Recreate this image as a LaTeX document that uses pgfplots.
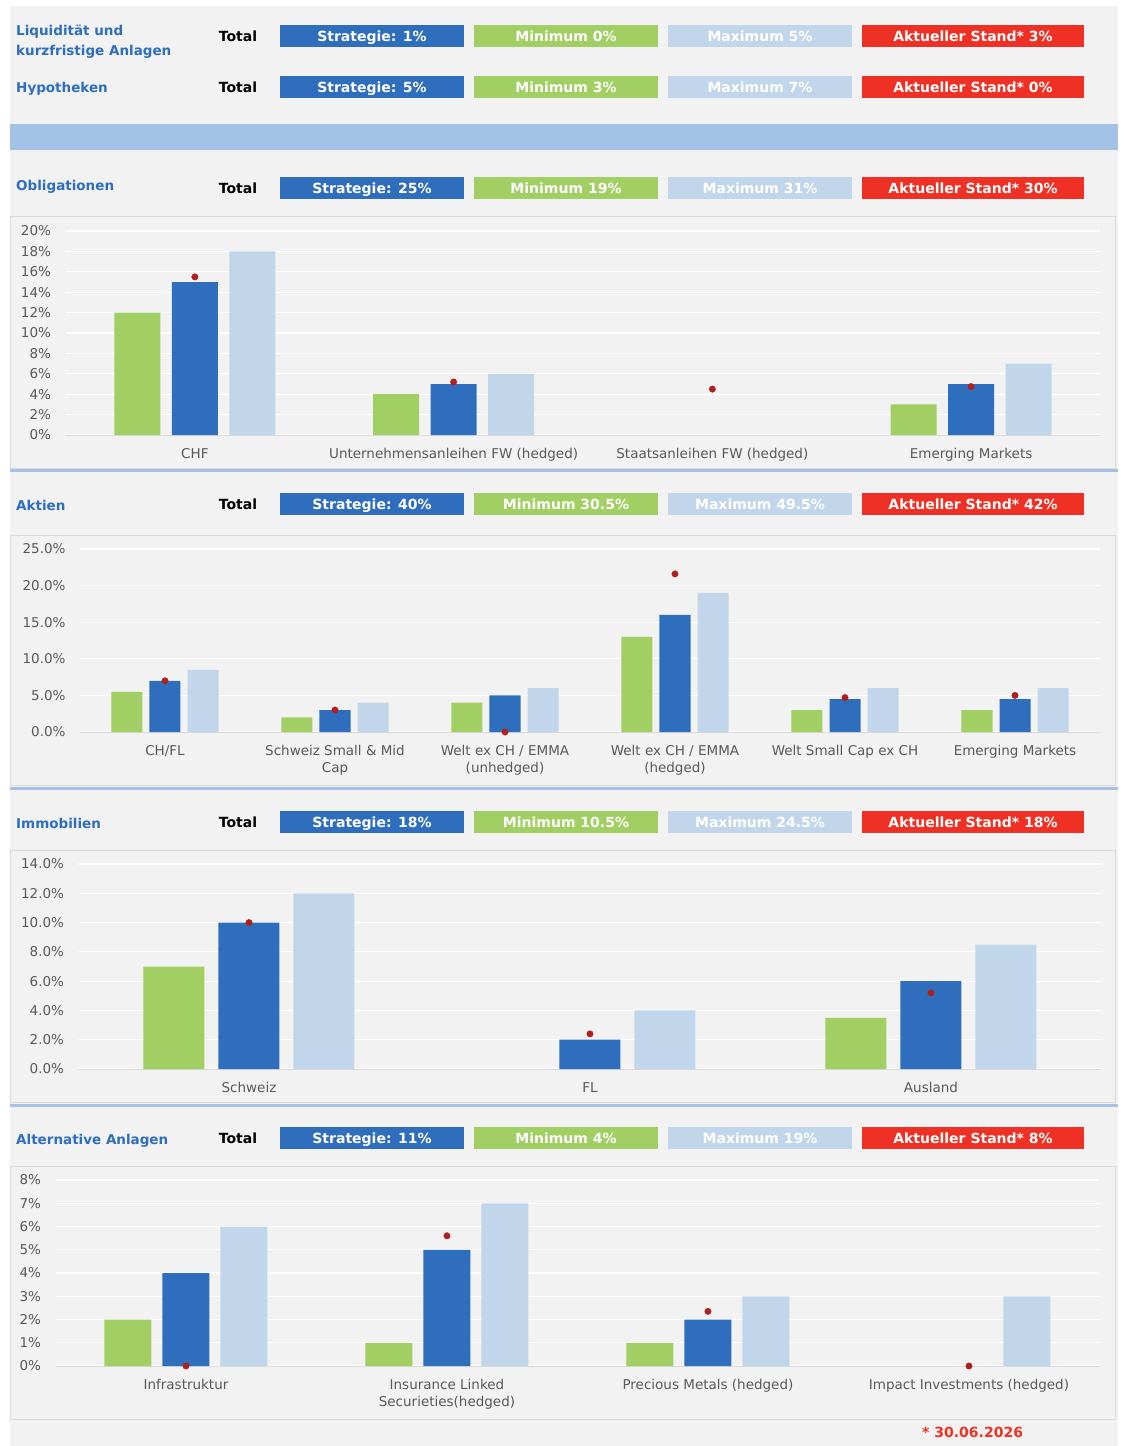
\documentclass[border=0pt]{standalone}
\usepackage{fontspec}
\setmainfont{DejaVu Sans}
\usepackage{pgfplots}
\pgfplotsset{compat=1.18}
\definecolor{cgreen}{HTML}{A1CF63}
\definecolor{cblue}{HTML}{2F6EBD}
\definecolor{clight}{HTML}{C2D6EB}
\definecolor{cred}{HTML}{EE3124}
\definecolor{cdot}{HTML}{B01E1E}
\definecolor{cpanel}{HTML}{F2F2F2}
\definecolor{cband}{HTML}{A4C2E5}
\definecolor{cframe}{HTML}{D9D9D9}
\definecolor{ctext}{HTML}{595959}
\definecolor{ctitle}{HTML}{2E6EBE}
\newcommand\hdfont{\fontsize{14}{16}\selectfont\bfseries}
\newcommand\ttfont{\fontsize{13.5}{16}\selectfont\bfseries}
% #1 box top y, #2 strategie, #3 min, #4 max, #5 aktuell
\newcommand\boxes[5]{%
  \node[anchor=base, font=\hdfont, text=black] at (238,-#1-16) {Total};
  \fill[cblue] (280,-#1) rectangle (464,-#1-22);
  \fill[cgreen] (474,-#1) rectangle (658,-#1-22);
  \fill[clight] (668,-#1) rectangle (852,-#1-22);
  \fill[cred] (862,-#1) rectangle (1084,-#1-22);
  \node[anchor=base, font=\hdfont, text=white] at (372,-#1-16) {#2};
  \node[anchor=base, font=\hdfont, text=white] at (566,-#1-16) {#3};
  \node[anchor=base, font=\hdfont, text=white] at (760,-#1-16) {#4};
  \node[anchor=base, font=\hdfont, text=white] at (973,-#1-16) {#5};
}
\newcommand\sectitle[2]{\node[anchor=base west, inner sep=0pt, font=\ttfont, text=ctitle] at (16,-#1) {#2};}
\pgfplotsset{
  mychart/.style={
    scale only axis, anchor=south west, clip=false,
    axis x line*=bottom, axis y line*=left,
    x axis line style={draw=cframe, line width=1pt, -},
    y axis line style={draw=none},
    ymajorgrids, grid style={white, line width=1.2pt},
    major tick length=0pt, tick style={draw=none},
    tick label style={text=ctext, font=\fontsize{13.5}{17}\selectfont},
    yticklabel style={xshift=-11pt},
    xticklabel style={yshift=-10pt, align=center},
    enlargelimits=false,
  },
  gbar/.style={ybar, fill=cgreen, draw=none},
  bbar/.style={ybar, fill=cblue, draw=none},
  lbar/.style={ybar, fill=clight, draw=none},
  dots/.style={only marks, mark=*, mark size=3.2pt, mark options={fill=cdot, draw=cdot}},
}
\begin{document}
\begin{tikzpicture}[x=1pt,y=1pt]
\fill[white] (0,0) rectangle (1124,-1446);
\fill[cpanel] (10,-6) rectangle (1118,-1446);
% band
\fill[cband] (10,-124) rectangle (1118,-150);
% chart frames
\draw[cframe, fill=cpanel] (10,-216) rectangle (1115,-468);
\draw[cframe, fill=cpanel] (10,-535) rectangle (1115,-785);
\draw[cframe, fill=cpanel] (10,-850) rectangle (1115,-1102);
\draw[cframe, fill=cpanel] (10,-1166) rectangle (1115,-1419);
% separators
\fill[cband] (10,-469) rectangle (1118,-472);
\fill[cband] (10,-786.5) rectangle (1118,-789.5);
\fill[cband] (10,-1104) rectangle (1118,-1107);
% headers
\sectitle{35}{Liquidität und}
\sectitle{55}{kurzfristige Anlagen}
\boxes{25}{Strategie: 1\%}{Minimum 0\%}{Maximum 5\%}{Aktueller Stand* 3\%}
\sectitle{92}{Hypotheken}
\boxes{76}{Strategie: 5\%}{Minimum 3\%}{Maximum 7\%}{Aktueller Stand* 0\%}
\sectitle{190}{Obligationen}
\boxes{177}{Strategie: 25\%}{Minimum 19\%}{Maximum 31\%}{Aktueller Stand* 30\%}
\sectitle{510}{Aktien}
\boxes{493}{Strategie: 40\%}{Minimum 30.5\%}{Maximum 49.5\%}{Aktueller Stand* 42\%}
\sectitle{828}{Immobilien}
\boxes{811}{Strategie: 18\%}{Minimum 10.5\%}{Maximum 24.5\%}{Aktueller Stand* 18\%}
\sectitle{1144}{Alternative Anlagen}
\boxes{1127}{Strategie: 11\%}{Minimum 4\%}{Maximum 19\%}{Aktueller Stand* 8\%}
\node[anchor=base west, inner sep=0pt, font=\hdfont, text=cred] at (922,-1437) {* 30.06.2026};

% Obligationen (zero-valued bars omitted: Staatsanleihen FW = 0/0/0)
\begin{axis}[mychart, at={(65.5pt,-435pt)}, width=1035pt, height=204pt,
  xmin=-0.5, xmax=3.5, ymin=0, ymax=20,
  ytick={0,2,...,20}, yticklabels={0\%,2\%,4\%,6\%,8\%,10\%,12\%,14\%,16\%,18\%,20\%},
  xtick={0,1,2,3}, xticklabels={CHF,Unternehmensanleihen FW (hedged),Staatsanleihen FW (hedged),Emerging Markets}]
\addplot[gbar, bar width=46pt, bar shift=-57.5pt] coordinates {(0,12) (1,4) (3,3)};
\addplot[bbar, bar width=46pt, bar shift=0pt] coordinates {(0,15) (1,5) (3,5)};
\addplot[lbar, bar width=46pt, bar shift=57.5pt] coordinates {(0,18) (1,6) (3,7)};
\addplot[dots] coordinates {(0,15.5) (1,5.2) (2,4.5) (3,4.75)};
\end{axis}

% Aktien
\begin{axis}[mychart, at={(80pt,-732pt)}, width=1020pt, height=183pt,
  xmin=-0.5, xmax=5.5, ymin=0, ymax=25,
  ytick={0,5,...,25}, yticklabels={0.0\%,5.0\%,10.0\%,15.0\%,20.0\%,25.0\%},
  xtick={0,1,2,3,4,5}, xticklabels={CH/FL,{Schweiz Small \& Mid\\Cap},{Welt ex CH / EMMA\\(unhedged)},{Welt ex CH / EMMA\\(hedged)},Welt Small Cap ex CH,Emerging Markets}]
\addplot[gbar, bar width=31pt, bar shift=-38pt] coordinates {(0,5.5) (1,2) (2,4) (3,13) (4,3) (5,3)};
\addplot[bbar, bar width=31pt, bar shift=0pt] coordinates {(0,7) (1,3) (2,5) (3,16) (4,4.5) (5,4.5)};
\addplot[lbar, bar width=31pt, bar shift=38pt] coordinates {(0,8.5) (1,4) (2,6) (3,19) (4,6) (5,6)};
\addplot[dots] coordinates {(0,7.0) (1,3.0) (2,0) (3,21.6) (4,4.7) (5,5.0)};
\end{axis}

% Immobilien (FL minimum = 0, omitted)
\begin{axis}[mychart, at={(78.5pt,-1069pt)}, width=1023pt, height=205pt,
  xmin=-0.5, xmax=2.5, ymin=0, ymax=14,
  ytick={0,2,...,14}, yticklabels={0.0\%,2.0\%,4.0\%,6.0\%,8.0\%,10.0\%,12.0\%,14.0\%},
  xtick={0,1,2}, xticklabels={Schweiz,FL,Ausland}]
\addplot[gbar, bar width=61pt, bar shift=-75pt] coordinates {(0,7) (2,3.5)};
\addplot[bbar, bar width=61pt, bar shift=0pt] coordinates {(0,10) (1,2) (2,6)};
\addplot[lbar, bar width=61pt, bar shift=75pt] coordinates {(0,12) (1,4) (2,8.5)};
\addplot[dots] coordinates {(0,10.0) (1,2.4) (2,5.2)};
\end{axis}

% Alternative Anlagen (Impact Investments min/strategie = 0, omitted)
\begin{axis}[mychart, at={(55.5pt,-1366pt)}, width=1044pt, height=186pt,
  xmin=-0.5, xmax=3.5, ymin=0, ymax=8,
  ytick={0,1,...,8}, yticklabels={0\%,1\%,2\%,3\%,4\%,5\%,6\%,7\%,8\%},
  xtick={0,1,2,3}, xticklabels={Infrastruktur,{Insurance Linked\\Securieties(hedged)},Precious Metals (hedged),Impact Investments (hedged)}]
\addplot[gbar, bar width=47pt, bar shift=-58pt] coordinates {(0,2) (1,1) (2,1)};
\addplot[bbar, bar width=47pt, bar shift=0pt] coordinates {(0,4) (1,5) (2,2)};
\addplot[lbar, bar width=47pt, bar shift=58pt] coordinates {(0,6) (1,7) (2,3) (3,3)};
\addplot[dots] coordinates {(0,0) (1,5.6) (2,2.35) (3,0)};
\end{axis}
\end{tikzpicture}
\end{document}
